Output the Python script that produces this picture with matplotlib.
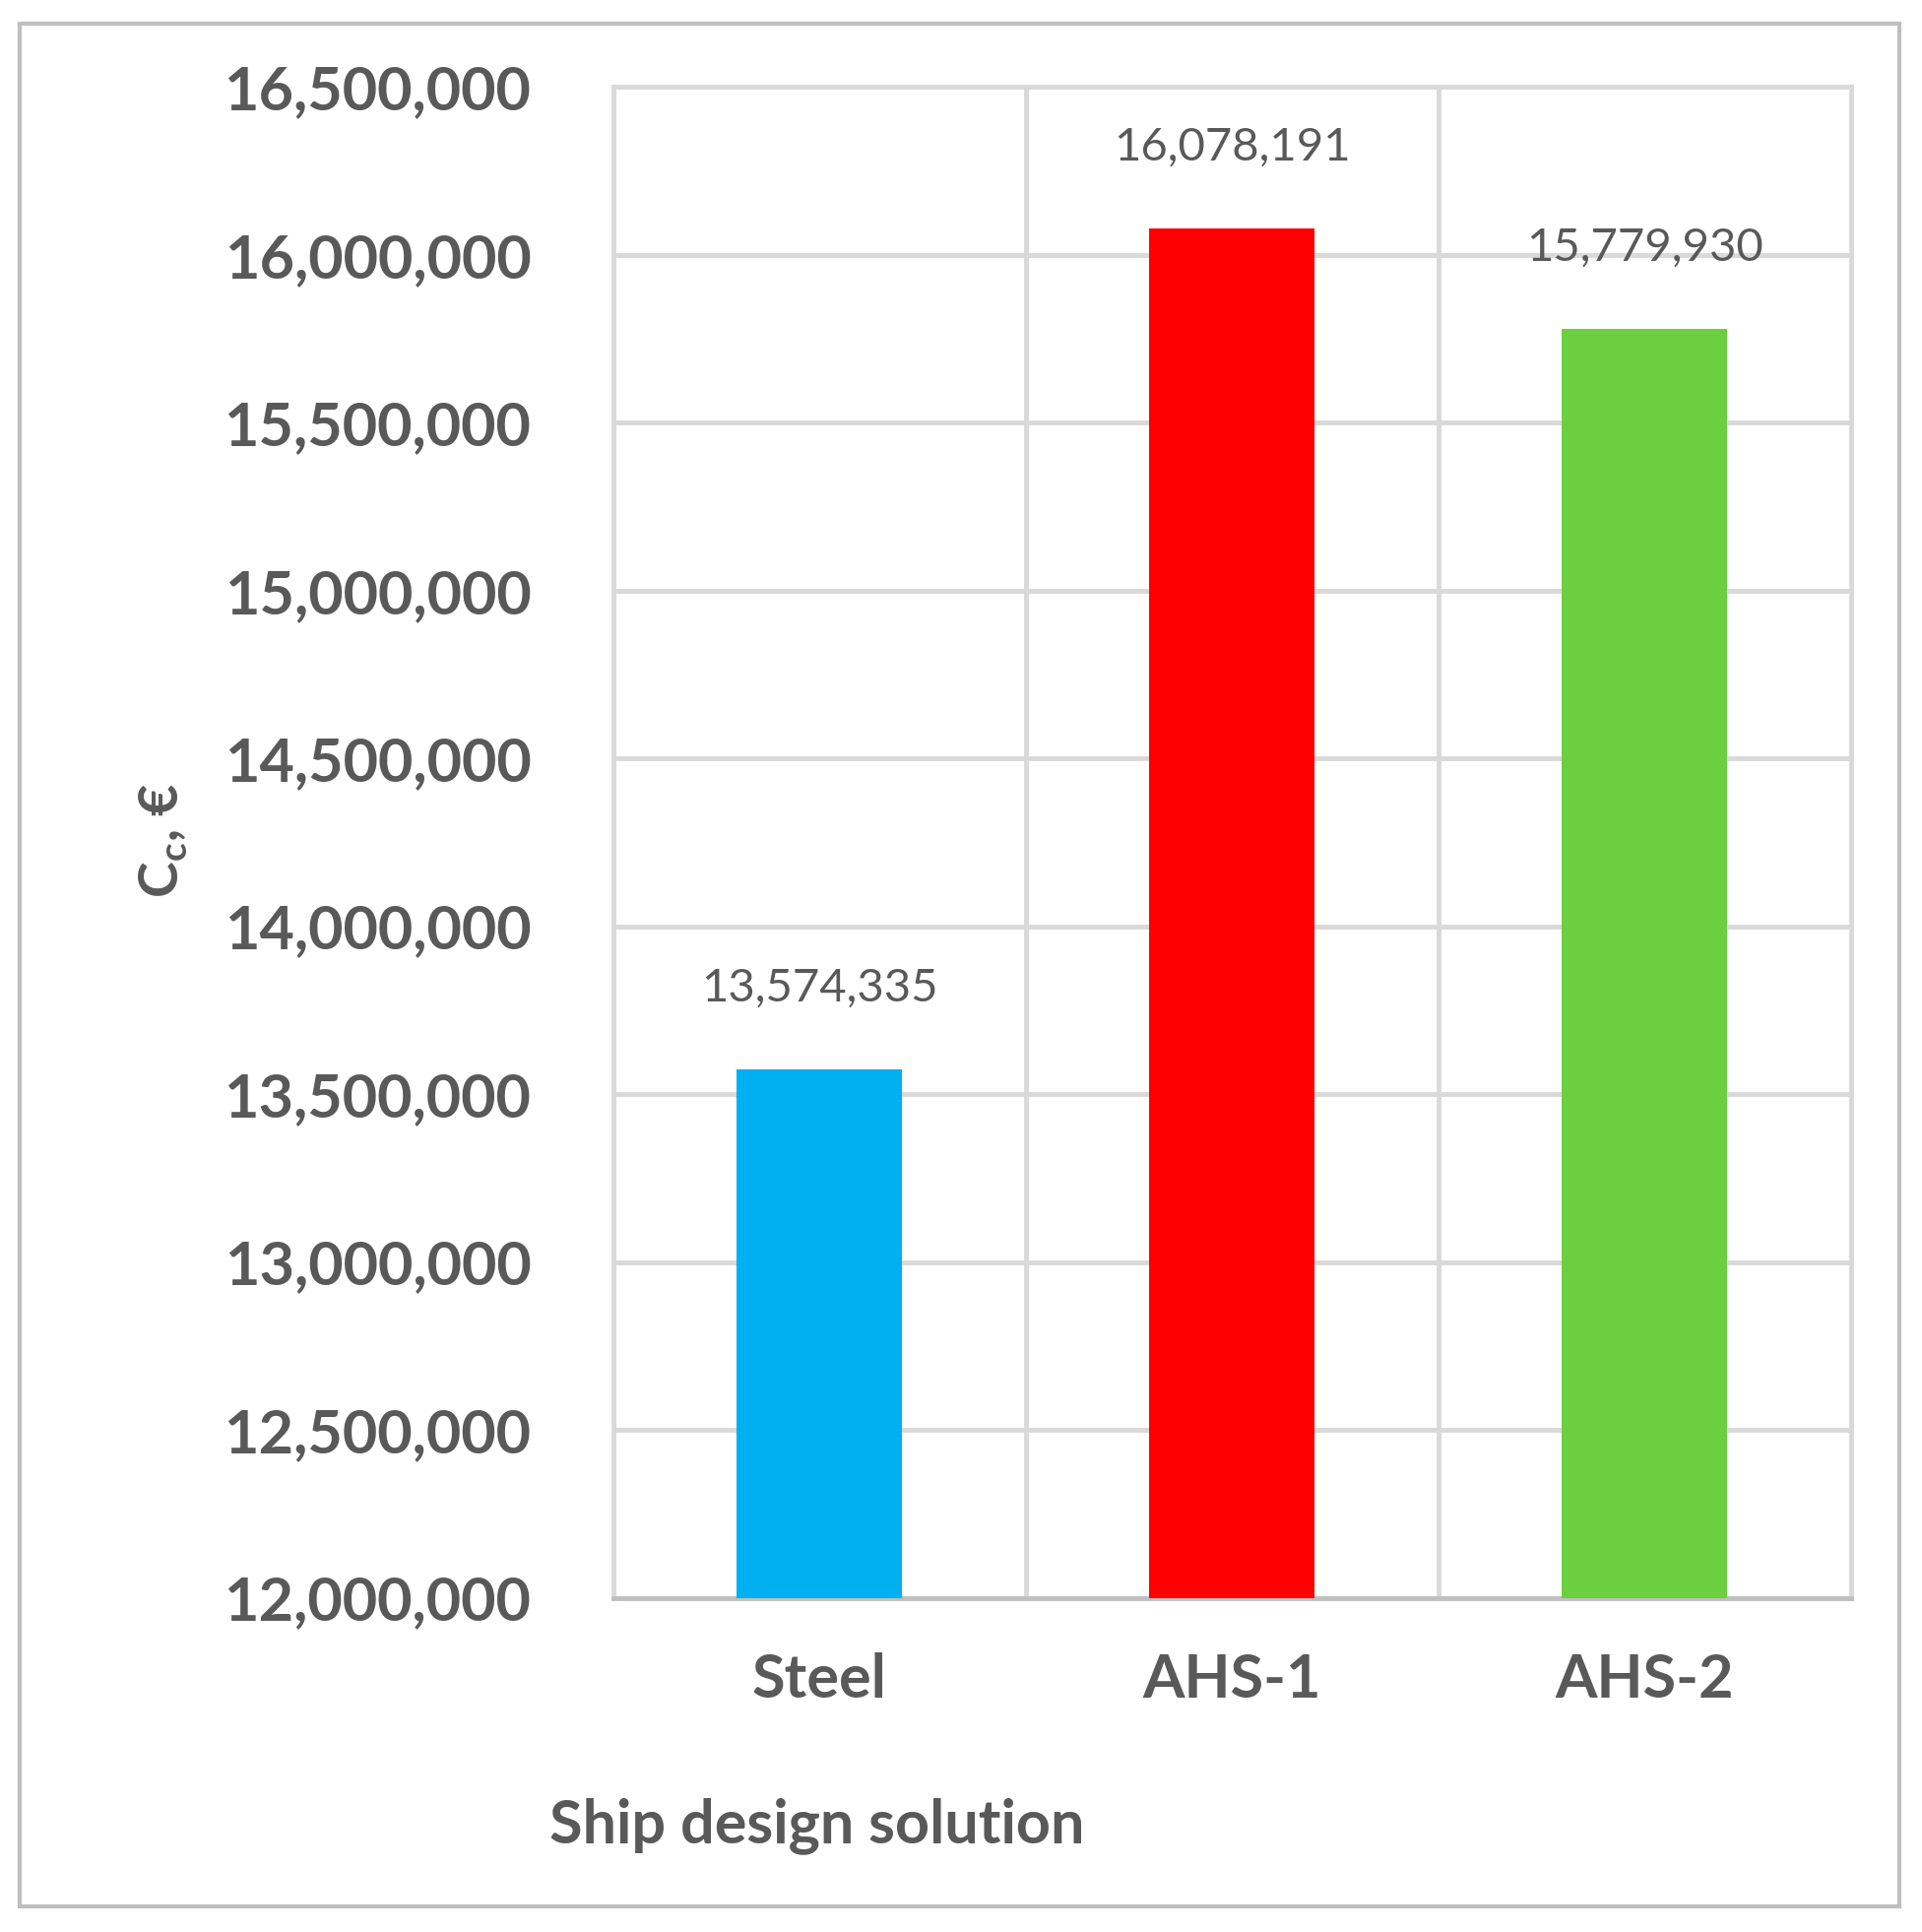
import matplotlib.pyplot as plt
from matplotlib.patches import Rectangle
from matplotlib.ticker import FuncFormatter

categories = ['Steel', 'AHS-1', 'AHS-2']
values = [13574335, 16078191, 15779930]
colors = ['#00B0F0', '#FF0000', '#6CCF3F']
y_ticks = [12000000, 12500000, 13000000, 13500000, 14000000,
           14500000, 15000000, 15500000, 16000000, 16500000]

plt.rcParams['font.family'] = ['Lato', 'DejaVu Sans']
grey = '#595959'

fig = plt.figure(figsize=(19.52, 19.62), dpi=100)
# outer frame
fig.add_artist(Rectangle((0.01, 0.013), 0.978, 0.975, transform=fig.transFigure,
                         fill=False, edgecolor='#BFBFBF', linewidth=3))
ax = fig.add_axes([0.319, 0.173, 0.644, 0.782])

x = [i + 0.5 for i in range(len(categories))]
ax.bar(x, values, width=0.4, color=colors, zorder=3)
for xi, v in zip(x, values):
    ax.text(xi, v + 180000, f'{v:,}', ha='center', va='bottom',
            fontsize=34, color=grey)

ax.set_xlim(0, 3)
ax.set_ylim(12000000, 16500000)
ax.set_yticks(y_ticks)
ax.yaxis.set_major_formatter(FuncFormatter(lambda v, p: f'{int(v):,}'))
ax.set_xticks(x)
ax.set_xticklabels(categories)
ax.set_xticks([0, 1, 2, 3], minor=True)
ax.grid(True, axis='y', color='#D9D9D9', linewidth=3.5, zorder=0)
ax.grid(True, axis='x', which='minor', color='#D9D9D9', linewidth=3.5, zorder=0)
ax.tick_params(axis='both', which='both', length=0)
ax.tick_params(axis='y', labelsize=44, labelcolor=grey, pad=60)
ax.tick_params(axis='x', labelsize=44, labelcolor=grey, pad=40)
for lab in ax.get_xticklabels() + ax.get_yticklabels():
    lab.set_fontweight('bold')
for s in ax.spines.values():
    s.set_color('#D9D9D9')
    s.set_linewidth(3.5)
ax.spines['bottom'].set_color('#BFBFBF')

fig.text(0.425, 0.055, 'Ship design solution', ha='center', va='center',
         fontsize=44, fontweight='bold', color=grey)
fig.text(0.085, 0.565, r'C$_\mathregular{c}$, €', ha='center', va='center',
         rotation=90, fontsize=40, fontweight='bold', color=grey)

fig.savefig('out.png', dpi=100)
